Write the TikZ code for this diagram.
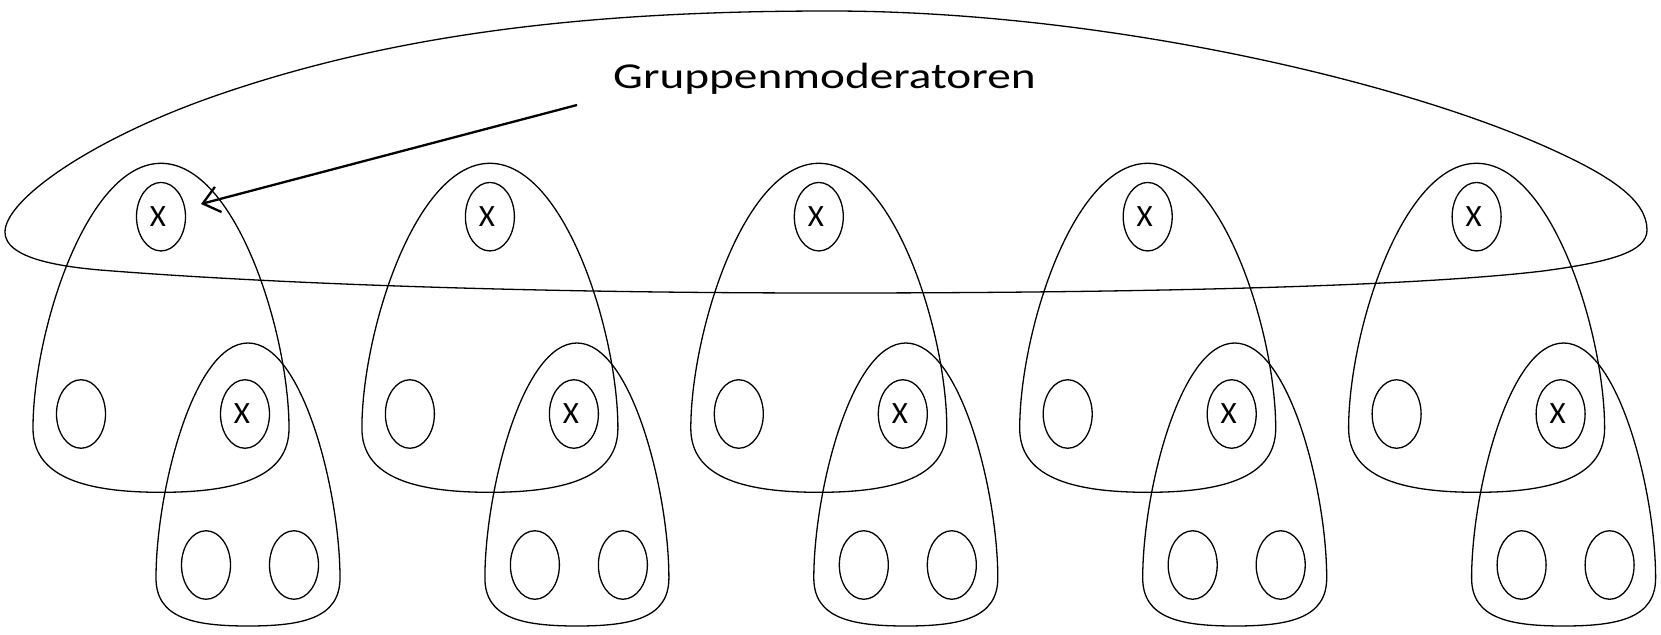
\documentclass[tikz,border=0pt]{standalone}
\usepackage{fontspec}
\setmainfont{Carlito}
\usetikzlibrary{shapes.geometric,arrows.meta}
\begin{document}
\begin{tikzpicture}[x=1pt,y=-1pt,
  outl/.style={draw=black,line width=1.3pt},
  member/.style={ellipse,outl,minimum width=49pt,minimum height=68.5pt,inner sep=0pt,font=\fontsize{31}{31}\selectfont},
  lbl/.style={font=\fontsize{36.5}{40}\selectfont,inner sep=0pt,anchor=base west},
  pointer/.style={line width=2.3pt,-{Straight Barb[length=16pt,width=26pt]}}]
\useasboundingbox (0,0) rectangle (1661,634);
% big group of moderators
\draw[outl] (5,232) .. controls (5,200) and (90,140) .. (212,97)
  .. controls (400,31) and (600,11) .. (830,11)
  .. controls (1100,11) and (1400,80) .. (1553,150)
  .. controls (1610,176) and (1647,200) .. (1647,230)
  .. controls (1647,252) and (1610,262) .. (1543,271)
  .. controls (1400,288) and (1100,293) .. (830,293)
  .. controls (500,293) and (250,282) .. (100,270)
  .. controls (30,264) and (5,250) .. (5,232) -- cycle;
\foreach \i in {1,...,5}{
  \pgfmathsetmacro\cx{161+328.9*(\i-1)}
  \begin{scope}[shift={(\cx,0)}]
    \draw[outl] (0,163.3) .. controls (-75,163.3) and (-128,333.3) .. (-128,428.3)
      .. controls (-128,475.3) and (-80,492.3) .. (0,492.3)
      .. controls (80,492.3) and (128,475.3) .. (128,428.3)
      .. controls (128,333.3) and (75,163.3) .. (0,163.3) -- cycle;
    \draw[outl] (87,343) .. controls (32,343) and (-5,493) .. (-5,578)
      .. controls (-5,618) and (32,626) .. (87,626)
      .. controls (142,626) and (179,618) .. (179,578)
      .. controls (179,493) and (142,343) .. (87,343) -- cycle;
    \node[member] (t\i) at (0,216.7) {\hspace*{-6pt}X};
    \node[member] (l\i) at (-80,414) {};
    \node[member] (m\i) at (84,414) {\hspace*{-6pt}X};
    \node[member] (ba\i) at (45,565) {};
    \node[member] (bb\i) at (133,565) {};
  \end{scope}
}
\node[lbl] (label) at (613,88) {\scalebox{1.295}[1]{Gruppenmoderatoren}};
\coordinate (aS) at (577,105);
\coordinate (aE) at (201,204);
\draw[pointer] (aS) -- (aE);
\end{tikzpicture}
\end{document}
